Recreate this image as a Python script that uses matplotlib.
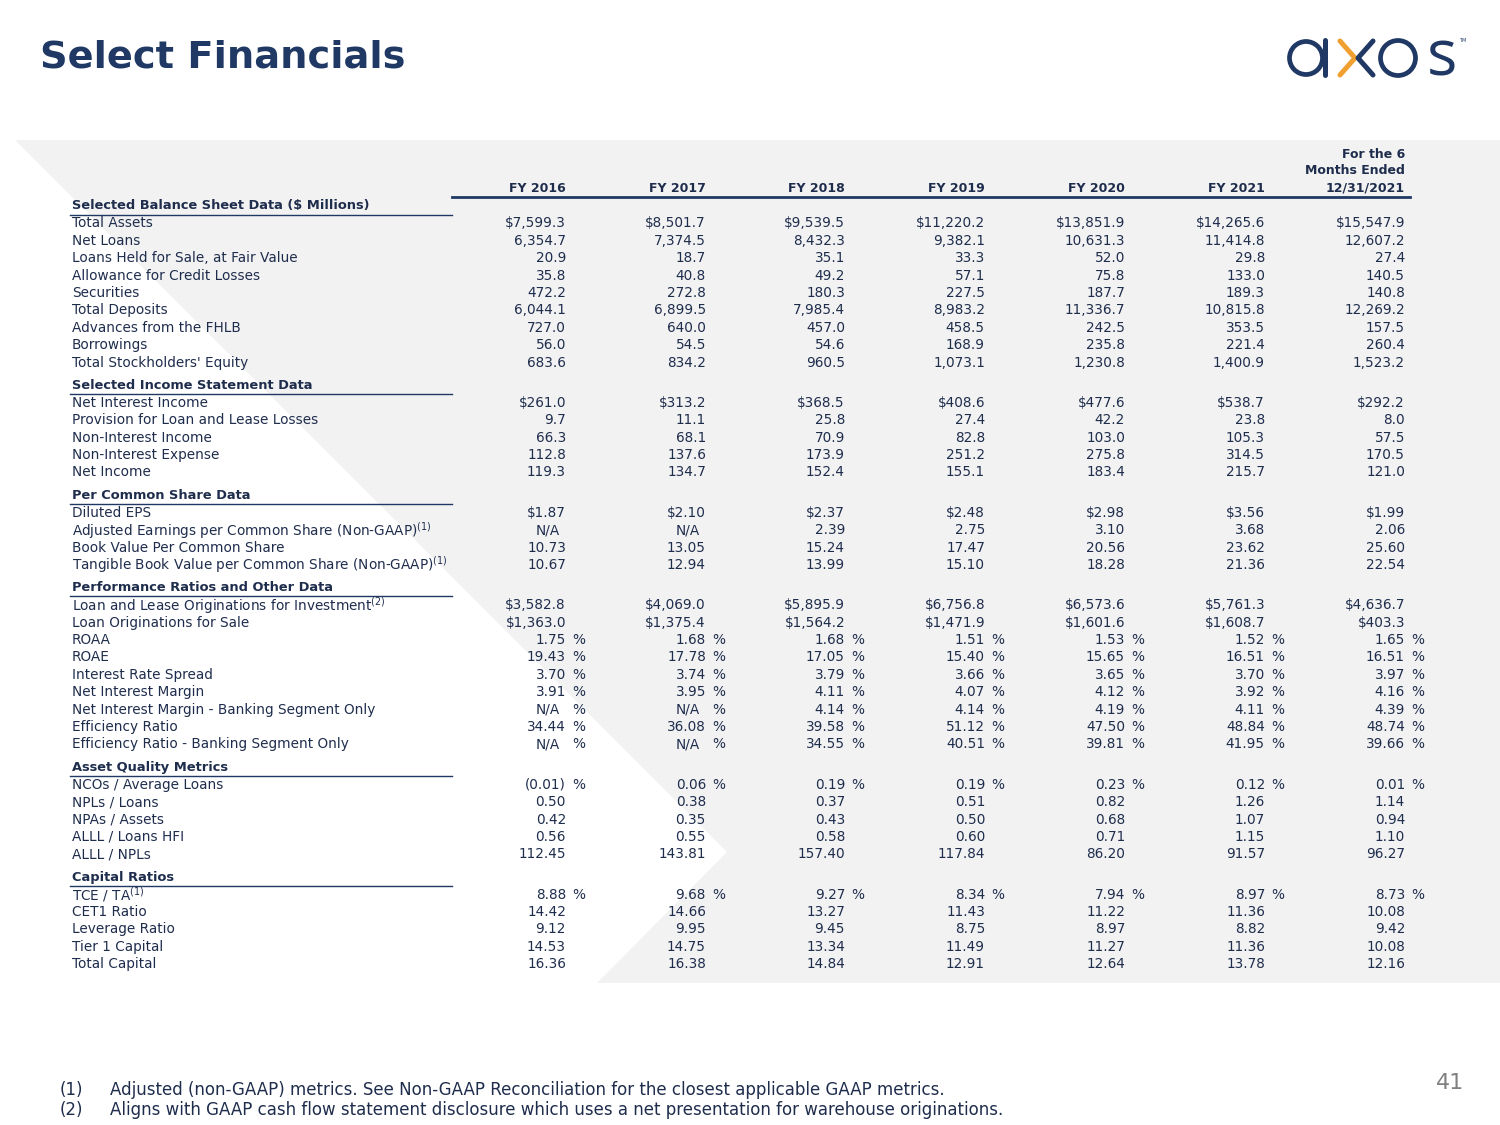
import matplotlib.pyplot as plt
from matplotlib.patches import Polygon, Circle

NAVY = "#1f3864"
TXT = "#1f2d4d"

years = ["FY 2016", "FY 2017", "FY 2018", "FY 2019", "FY 2020", "FY 2021", "12/31/2021"]

# (label, values, decimals, dollar on first cells, percent sign)
balance_sheet = [
    ("Total Assets", [7599.3, 8501.7, 9539.5, 11220.2, 13851.9, 14265.6, 15547.9], 1, True, False),
    ("Net Loans", [6354.7, 7374.5, 8432.3, 9382.1, 10631.3, 11414.8, 12607.2], 1, False, False),
    ("Loans Held for Sale, at Fair Value", [20.9, 18.7, 35.1, 33.3, 52.0, 29.8, 27.4], 1, False, False),
    ("Allowance for Credit Losses", [35.8, 40.8, 49.2, 57.1, 75.8, 133.0, 140.5], 1, False, False),
    ("Securities", [472.2, 272.8, 180.3, 227.5, 187.7, 189.3, 140.8], 1, False, False),
    ("Total Deposits", [6044.1, 6899.5, 7985.4, 8983.2, 11336.7, 10815.8, 12269.2], 1, False, False),
    ("Advances from the FHLB", [727.0, 640.0, 457.0, 458.5, 242.5, 353.5, 157.5], 1, False, False),
    ("Borrowings", [56.0, 54.5, 54.6, 168.9, 235.8, 221.4, 260.4], 1, False, False),
    ("Total Stockholders' Equity", [683.6, 834.2, 960.5, 1073.1, 1230.8, 1400.9, 1523.2], 1, False, False),
]
income = [
    ("Net Interest Income", [261.0, 313.2, 368.5, 408.6, 477.6, 538.7, 292.2], 1, True, False),
    ("Provision for Loan and Lease Losses", [9.7, 11.1, 25.8, 27.4, 42.2, 23.8, 8.0], 1, False, False),
    ("Non-Interest Income", [66.3, 68.1, 70.9, 82.8, 103.0, 105.3, 57.5], 1, False, False),
    ("Non-Interest Expense", [112.8, 137.6, 173.9, 251.2, 275.8, 314.5, 170.5], 1, False, False),
    ("Net Income", [119.3, 134.7, 152.4, 155.1, 183.4, 215.7, 121.0], 1, False, False),
]
per_share = [
    ("Diluted EPS", [1.87, 2.10, 2.37, 2.48, 2.98, 3.56, 1.99], 2, True, False),
    ("Adjusted Earnings per Common Share (Non-GAAP)$^{(1)}$", [None, None, 2.39, 2.75, 3.10, 3.68, 2.06], 2, False, False),
    ("Book Value Per Common Share", [10.73, 13.05, 15.24, 17.47, 20.56, 23.62, 25.60], 2, False, False),
    ("Tangible Book Value per Common Share (Non-GAAP)$^{(1)}$", [10.67, 12.94, 13.99, 15.10, 18.28, 21.36, 22.54], 2, False, False),
]
performance = [
    ("Loan and Lease Originations for Investment$^{(2)}$", [3582.8, 4069.0, 5895.9, 6756.8, 6573.6, 5761.3, 4636.7], 1, True, False),
    ("Loan Originations for Sale", [1363.0, 1375.4, 1564.2, 1471.9, 1601.6, 1608.7, 403.3], 1, True, False),
    ("ROAA", [1.75, 1.68, 1.68, 1.51, 1.53, 1.52, 1.65], 2, False, True),
    ("ROAE", [19.43, 17.78, 17.05, 15.40, 15.65, 16.51, 16.51], 2, False, True),
    ("Interest Rate Spread", [3.70, 3.74, 3.79, 3.66, 3.65, 3.70, 3.97], 2, False, True),
    ("Net Interest Margin", [3.91, 3.95, 4.11, 4.07, 4.12, 3.92, 4.16], 2, False, True),
    ("Net Interest Margin - Banking Segment Only", [None, None, 4.14, 4.14, 4.19, 4.11, 4.39], 2, False, True),
    ("Efficiency Ratio", [34.44, 36.08, 39.58, 51.12, 47.50, 48.84, 48.74], 2, False, True),
    ("Efficiency Ratio - Banking Segment Only", [None, None, 34.55, 40.51, 39.81, 41.95, 39.66], 2, False, True),
]
asset_quality = [
    ("NCOs / Average Loans", [-0.01, 0.06, 0.19, 0.19, 0.23, 0.12, 0.01], 2, False, True),
    ("NPLs / Loans", [0.50, 0.38, 0.37, 0.51, 0.82, 1.26, 1.14], 2, False, False),
    ("NPAs / Assets", [0.42, 0.35, 0.43, 0.50, 0.68, 1.07, 0.94], 2, False, False),
    ("ALLL / Loans HFI", [0.56, 0.55, 0.58, 0.60, 0.71, 1.15, 1.10], 2, False, False),
    ("ALLL / NPLs", [112.45, 143.81, 157.40, 117.84, 86.20, 91.57, 96.27], 2, False, False),
]
capital = [
    ("TCE / TA$^{(1)}$", [8.88, 9.68, 9.27, 8.34, 7.94, 8.97, 8.73], 2, False, True),
    ("CET1 Ratio", [14.42, 14.66, 13.27, 11.43, 11.22, 11.36, 10.08], 2, False, False),
    ("Leverage Ratio", [9.12, 9.95, 9.45, 8.75, 8.97, 8.82, 9.42], 2, False, False),
    ("Tier 1 Capital", [14.53, 14.75, 13.34, 11.49, 11.27, 11.36, 10.08], 2, False, False),
    ("Total Capital", [16.36, 16.38, 14.84, 12.91, 12.64, 13.78, 12.16], 2, False, False),
]
sections = [
    ("Selected Balance Sheet Data (\\$ Millions)", balance_sheet),
    ("Selected Income Statement Data", income),
    ("Per Common Share Data", per_share),
    ("Performance Ratios and Other Data", performance),
    ("Asset Quality Metrics", asset_quality),
    ("Capital Ratios", capital),
]

footnotes = ["Adjusted (non-GAAP) metrics. See Non-GAAP Reconciliation for the closest applicable GAAP metrics.",
             "Aligns with GAAP cash flow statement disclosure which uses a net presentation for warehouse originations."]


def fmt(v, dec, dollar):
    if v is None:
        return "N/A"
    s = "{:,.{}f}".format(abs(v), dec)
    if v < 0:
        s = "(" + s + ")"
    if dollar:
        s = "$" + s
    return s


fig = plt.figure(figsize=(15, 11.25), dpi=100)
ax = fig.add_axes([0, 0, 1, 1])
ax.set_xlim(0, 1500)
ax.set_ylim(1125, 0)
ax.axis("off")

# grey backdrop with white chevron
ax.add_patch(Polygon([(15, 140), (1500, 140), (1500, 983), (597, 983), (727, 852)],
                     closed=True, facecolor="#f2f2f2", edgecolor="none", zorder=0))

ax.text(40, 57, "Select Financials", fontsize=27.6, fontweight="bold", color=NAVY, va="center")

# logo
ax.add_patch(Circle((1306, 58), 16.5, fill=False, lw=3.4, ec=NAVY))
ax.plot([1325, 1325], [40, 75], color=NAVY, lw=3.6, solid_capstyle="round")
ax.plot([1340, 1355, 1340], [41, 58, 75], color="#f0a030", lw=3.6, solid_capstyle="round")
ax.plot([1373, 1358, 1373], [41, 58, 75], color=NAVY, lw=3.6, solid_capstyle="round")
ax.add_patch(Circle((1398, 58), 17.5, fill=False, lw=3.4, ec=NAVY))
ax.text(1442, 58, "s", fontsize=46, color=NAVY, ha="center", va="center", family="Open Sans")
ax.text(1459, 41, "TM", fontsize=3.5, color=NAVY, va="center")

col_right = [566, 706, 845, 985, 1125, 1265, 1405]
fs = 9.8
fsh = 9.4
fcol = 9.0

# column headers
for x, y in zip(col_right, years):
    ax.text(x, 188, y, fontsize=fcol, fontweight="bold", color=TXT, ha="right", va="center")
ax.text(col_right[-1], 154, "For the 6", fontsize=fcol, fontweight="bold", color=TXT, ha="right", va="center")
ax.text(col_right[-1], 171, "Months Ended", fontsize=fcol, fontweight="bold", color=TXT, ha="right", va="center")
ax.plot([452, 1410], [197, 197], color=NAVY, lw=2)

y = 206
step = 17.4
for title, rows in sections:
    ax.text(72, y, title, fontsize=fsh, fontweight="bold", color=TXT, va="center")
    ax.plot([70, 452], [y + 8.5, y + 8.5], color=NAVY, lw=1)
    y += step
    for label, vals, dec, dollar, pct in rows:
        ax.text(72, y, label, fontsize=fs, color=TXT, va="center")
        for i, v in enumerate(vals):
            s = fmt(v, dec, dollar)
            xr = col_right[i] - (6 if v is None else 0)
            ax.text(xr, y, s, fontsize=fs, color=TXT, ha="right", va="center")
            if pct:
                ax.text(col_right[i] + 6, y, "%", fontsize=fs, color=TXT, ha="left", va="center")
        y += step
    y += 5.5

for i, note in enumerate(footnotes):
    ax.text(60, 1090 + 20 * i, "(%d)" % (i + 1), fontsize=12, color=TXT, va="center")
    ax.text(110, 1090 + 20 * i, note, fontsize=12, color=TXT, va="center")
ax.text(1464, 1083, "41", fontsize=16, color="#7f7f7f", ha="right", va="center")

fig.savefig("out.png", dpi=100)
